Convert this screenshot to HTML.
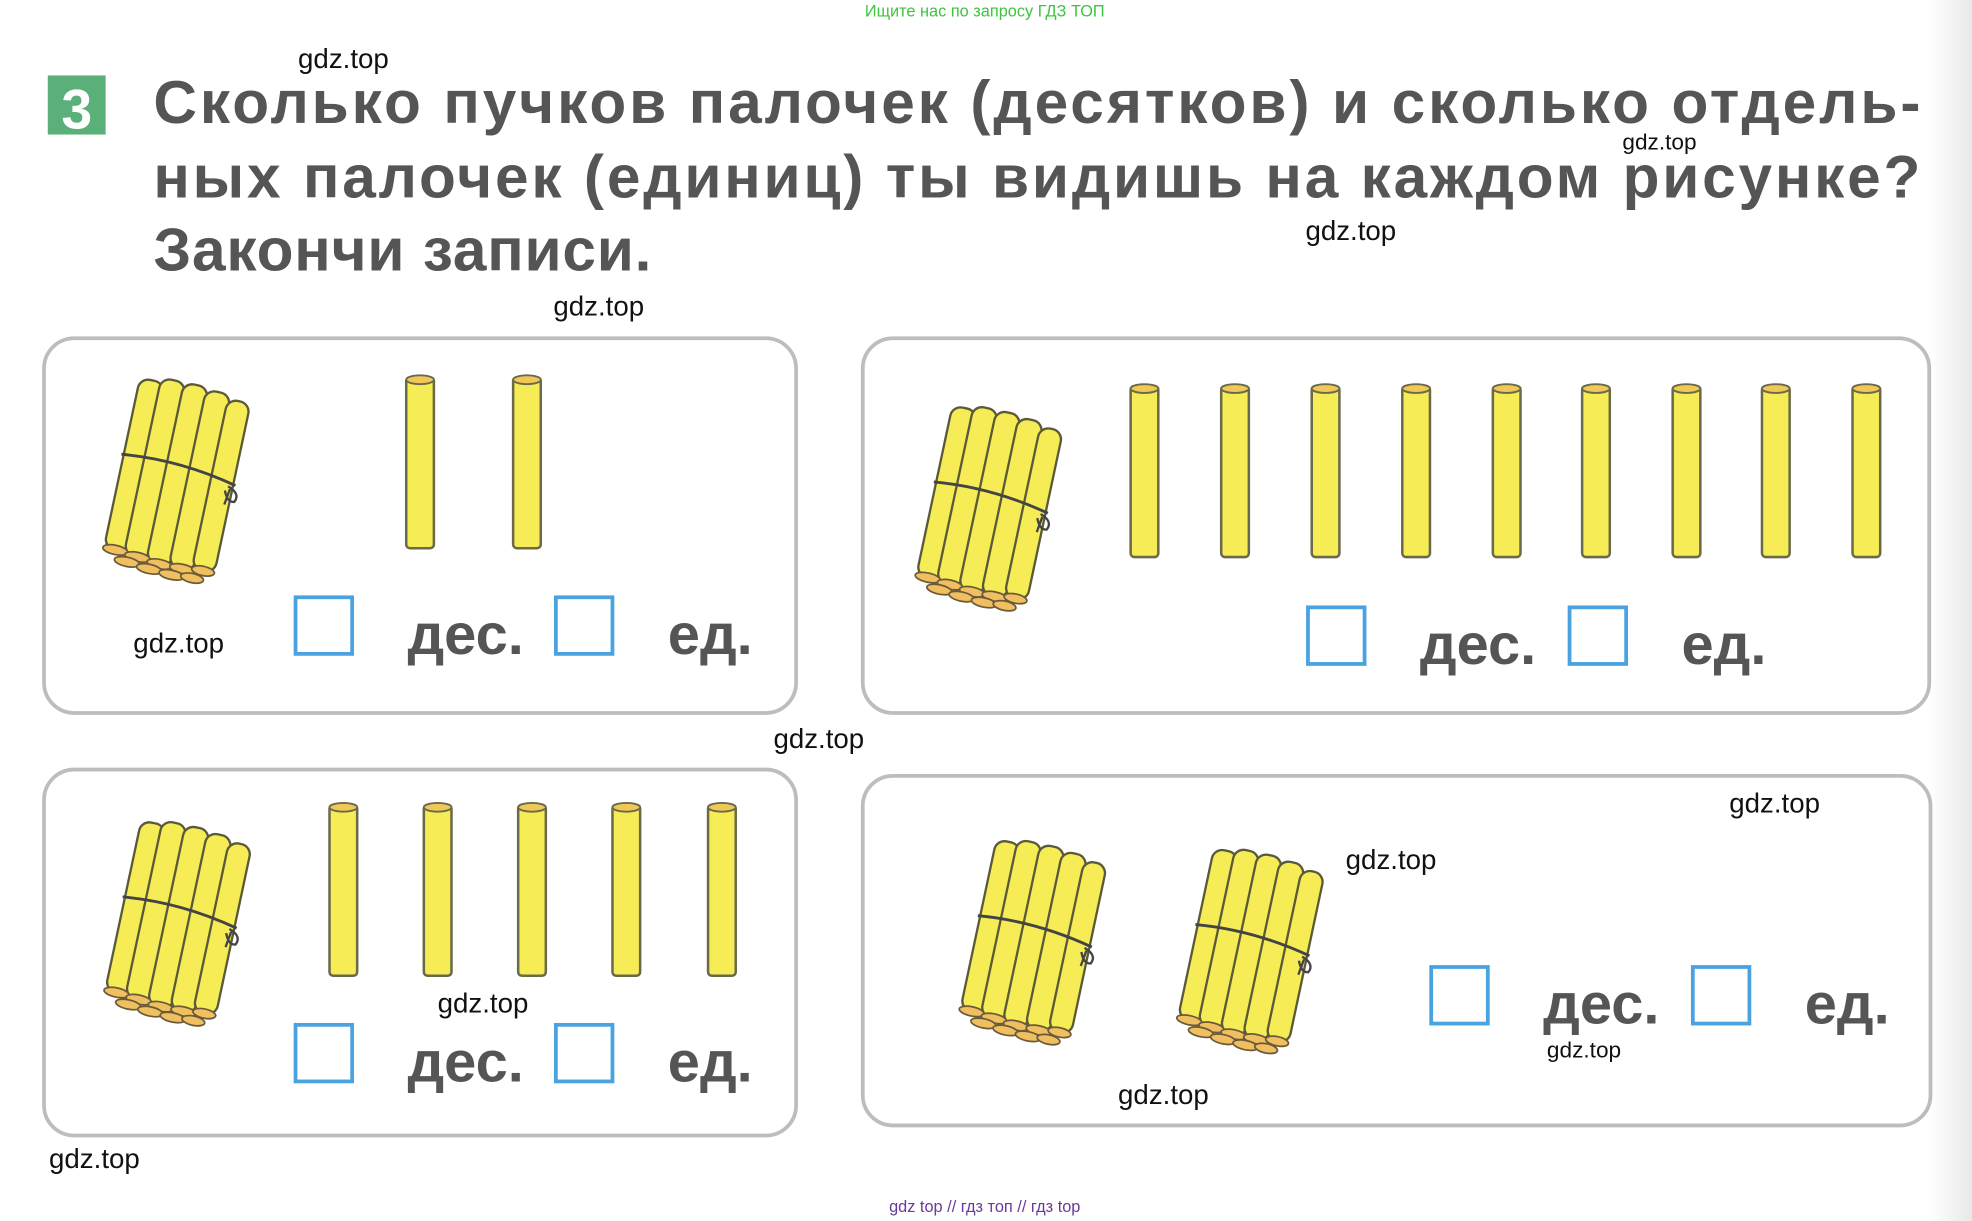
<!DOCTYPE html>
<html><head><meta charset="utf-8"><style>
html,body{margin:0;padding:0;background:#fff;}
svg{display:block;}
text{font-family:"Liberation Sans",sans-serif;}
</style></head><body>
<svg width="1972" height="1221" viewBox="0 0 1568 971" preserveAspectRatio="none" xmlns="http://www.w3.org/2000/svg">
<defs>
<linearGradient id="edge" x1="0" x2="1"><stop offset="0" stop-color="#fff"/><stop offset="1" stop-color="#e8e8e8"/></linearGradient>
<g id="stick">
  <rect x="-11" y="0" width="22" height="136" rx="3" fill="#f6ec55" stroke="#6a6a4a" stroke-width="2"/>
  <ellipse cx="0" cy="2" rx="11" ry="3.5" fill="#f0c85a" stroke="#6a6a4a" stroke-width="1.5"/>
</g>
<g id="bundle">
  <g transform="rotate(12) scale(0.92)">
    <g stroke="#5a5a3a" stroke-width="2" fill="#f6ec55">
      <rect x="-48" y="-76" width="22" height="150" rx="9"/>
      <rect x="-30" y="-80" width="22" height="156" rx="9"/>
      <rect x="-10" y="-80" width="22" height="158" rx="9"/>
      <rect x="10" y="-78" width="22" height="156" rx="9"/>
      <rect x="30" y="-74" width="20" height="150" rx="9"/>
    </g>
    <path d="M-50 -8 Q0 -14 52 -2" stroke="#444" stroke-width="2.5" fill="none"/>
    <path d="M46 0 q12 4 8 12 q-6 2 -10 -8 M48 2 l-2 14" stroke="#444" stroke-width="2" fill="none"/>
    <g fill="#f0c060" stroke="#6a5a3a" stroke-width="1.5">
      <ellipse cx="-38" cy="74" rx="11" ry="4"/>
      <ellipse cx="-18" cy="76" rx="11" ry="4"/>
      <ellipse cx="2" cy="78" rx="11" ry="4"/>
      <ellipse cx="22" cy="78" rx="11" ry="4"/>
      <ellipse cx="40" cy="76" rx="10" ry="4"/>
      <ellipse cx="-26" cy="82" rx="11" ry="4"/>
      <ellipse cx="-6" cy="84" rx="11" ry="4"/>
      <ellipse cx="14" cy="85" rx="11" ry="4"/>
      <ellipse cx="32" cy="84" rx="10" ry="4"/>
    </g>
  </g>
</g>
</defs>
<rect x="1535" y="0" width="33" height="971" fill="url(#edge)"/>
<text x="783" y="13" font-size="13" fill="#3ec43e" text-anchor="middle">Ищите нас по запросу ГДЗ ТОП</text>

<rect x="38" y="60" width="46" height="47" fill="#5bb07a"/>
<text x="61" y="102" font-size="44" font-weight="bold" fill="#fff" text-anchor="middle">3</text>
<g font-size="48" fill="#555" font-weight="bold">
<text x="122" y="98" textLength="1405" lengthAdjust="spacing">Сколько  пучков  палочек  (десятков)  и  сколько  отдель-</text>
<text x="122" y="157" textLength="1405" lengthAdjust="spacing">ных  палочек  (единиц)  ты  видишь  на  каждом  рисунке?</text>
<text x="122" y="215" textLength="396" lengthAdjust="spacing">Закончи  записи.</text>
</g>

<g fill="none" stroke="#bdbdbd" stroke-width="3">
<rect x="35" y="269" width="598" height="298" rx="24"/>
<rect x="686" y="269" width="848" height="298" rx="24"/>
<rect x="35" y="612" width="598" height="291" rx="24"/>
<rect x="686" y="617" width="849" height="278" rx="24"/>
</g>

<use href="#bundle" x="140" y="378"/>
<use href="#stick" x="334" y="300"/>
<use href="#stick" x="419" y="300"/>
<use href="#bundle" x="786" y="400"/>
<use href="#stick" x="910" y="307"/><use href="#stick" x="982" y="307"/><use href="#stick" x="1054" y="307"/>
<use href="#stick" x="1126" y="307"/><use href="#stick" x="1198" y="307"/><use href="#stick" x="1269" y="307"/>
<use href="#stick" x="1341" y="307"/><use href="#stick" x="1412" y="307"/><use href="#stick" x="1484" y="307"/>
<use href="#bundle" x="141" y="730"/>
<use href="#stick" x="273" y="640"/><use href="#stick" x="348" y="640"/><use href="#stick" x="423" y="640"/>
<use href="#stick" x="498" y="640"/><use href="#stick" x="574" y="640"/>
<use href="#bundle" x="821" y="745"/>
<use href="#bundle" x="994" y="752"/>

<g fill="none" stroke="#4aa3e0" stroke-width="3">
<rect x="235" y="475" width="45" height="45"/><rect x="442" y="475" width="45" height="45"/>
<rect x="1040" y="483" width="45" height="45"/><rect x="1248" y="483" width="45" height="45"/>
<rect x="235" y="815" width="45" height="45"/><rect x="442" y="815" width="45" height="45"/>
<rect x="1138" y="769" width="45" height="45"/><rect x="1346" y="769" width="45" height="45"/>
</g>
<g font-size="46" fill="#555" font-weight="bold">
<text x="324" y="520">дес.</text><text x="531" y="520">ед.</text>
<text x="1129" y="528">дес.</text><text x="1337" y="528">ед.</text>
<text x="324" y="860">дес.</text><text x="531" y="860">ед.</text>
<text x="1227" y="814">дес.</text><text x="1435" y="814">ед.</text>
</g>

<g font-size="22" fill="#111">
<text x="237" y="54">gdz.top</text>
<text x="1038" y="191">gdz.top</text>
<text x="440" y="251">gdz.top</text>
<text x="106" y="519">gdz.top</text>
<text x="615" y="595">gdz.top</text>
<text x="1375" y="646">gdz.top</text>
<text x="1070" y="691">gdz.top</text>
<text x="348" y="805">gdz.top</text>
<text x="889" y="878">gdz.top</text>
<text x="39" y="929">gdz.top</text>
</g>
<g font-size="18" fill="#111">
<text x="1290" y="119">gdz.top</text>
<text x="1230" y="841">gdz.top</text>
</g>
<text x="783" y="964" font-size="13" fill="#6a3a9a" text-anchor="middle">gdz top  //  гдз топ  //  гдз top</text>
</svg>
</body></html>
